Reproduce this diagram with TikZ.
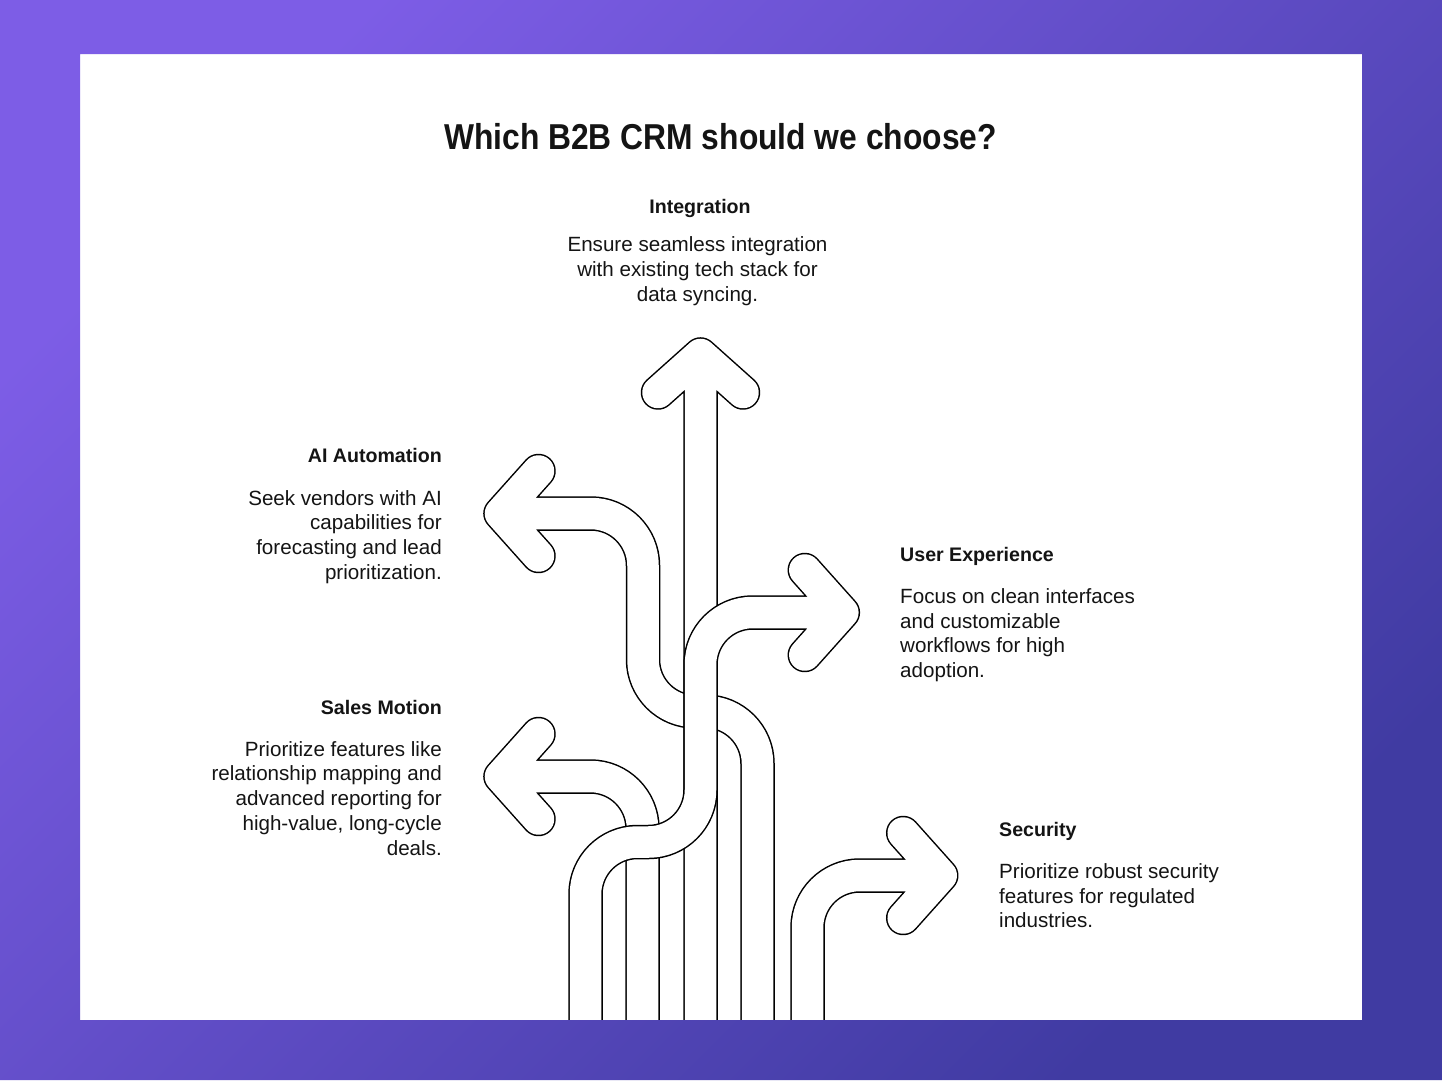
\documentclass[tikz,border=0pt]{standalone}
\usepackage{fontspec}
\setmainfont{Liberation Sans}
\definecolor{bgA}{HTML}{7D5DE6}
\definecolor{bgB}{HTML}{403BA2}
\definecolor{ink}{HTML}{141414}
\tikzset{
  band/.style={draw=black, line width=1.5pt, double=white, double distance=31.5pt, line cap=round, line join=round},
  ttl/.style={font=\fontsize{36}{40}\selectfont\bfseries, text=ink, inner sep=0pt, xscale=0.883},
  hd/.style={font=\fontsize{19.6}{23}\selectfont\bfseries, text=ink, inner sep=0pt},
  bd/.style={font=\fontsize{20.6}{24.8}\selectfont, text=ink, inner sep=0pt},
}
\begin{document}
\begin{tikzpicture}[x=1pt,y=-1pt]
\useasboundingbox (0,0) rectangle (1442,1080);
\fill[white] (80,54) rectangle (1362,1020);
% AI Automation
\draw[band] (757.5,1040) -- (757.5,763.5) arc[start angle=0,end angle=-90,radius=52] -- (695,711.5) arc[start angle=90,end angle=180,radius=52] -- (643,565.5) arc[start angle=0,end angle=-90,radius=52] -- (500.5,513.5) (538.5,471) -- (500.5,513.5) -- (538.5,556);
% Sales Motion
\draw[band] (642.5,1040) -- (642.5,828.5) arc[start angle=0,end angle=-90,radius=52] -- (500.5,776.5) (538.5,734) -- (500.5,776.5) -- (538.5,819);
% Integration
\draw[band] (700.5,1040) -- (700.5,354.5) (658,392.5) -- (700.5,354.5) -- (743,392.5);
% User Experience
\draw[band] (585.5,1040) -- (585.5,894) arc[start angle=180,end angle=270,radius=52] -- (648.5,842) arc[start angle=90,end angle=0,radius=52] -- (700.5,664.5) arc[start angle=180,end angle=270,radius=52] -- (842.8,612.5) (804.8,570) -- (842.8,612.5) -- (804.8,655);
% Security
\draw[band] (807.5,1040) -- (807.5,927.5) arc[start angle=180,end angle=270,radius=52] -- (941.2,875.5) (903.2,833) -- (941.2,875.5) -- (903.2,918);
% background frame drawn last, with the panel left open
\shade[even odd rule, top color=bgA, bottom color=bgB, shading angle=45] (0,0) rectangle (1442,1080) (80,54) rectangle (1362,1020);
\node[ttl, anchor=base] (title) at (720.5,149.3) {Which B2B CRM should we choose?};
\node[hd, anchor=base] (intH) at (700,213) {Integration};
\node[bd, anchor=base, align=center] (intB) at (697.5,301.5) {Ensure seamless integration\\with existing tech stack for\\data syncing.};
\node[hd, anchor=base east] (aiH) at (442,462.7) {AI Automation};
\node[bd, anchor=base east, align=right] (aiB) at (442,579.4) {Seek vendors with AI\\capabilities for\\forecasting and lead\\prioritization.};
\node[hd, anchor=base east] (smH) at (442,714) {Sales Motion};
\node[bd, anchor=base east, align=right] (smB) at (442,855.2) {Prioritize features like\\relationship mapping and\\advanced reporting for\\high-value, long-cycle\\deals.};
\node[hd, anchor=base west] (uxH) at (900,561.7) {User Experience};
\node[bd, anchor=base west, align=left] (uxB) at (900,677.7) {Focus on clean interfaces\\and customizable\\workflows for high\\adoption.};
\node[hd, anchor=base west] (secH) at (999,836.7) {Security};
\node[bd, anchor=base west, align=left] (secB) at (999,927.9) {Prioritize robust security\\features for regulated\\industries.};
\end{tikzpicture}
\end{document}
